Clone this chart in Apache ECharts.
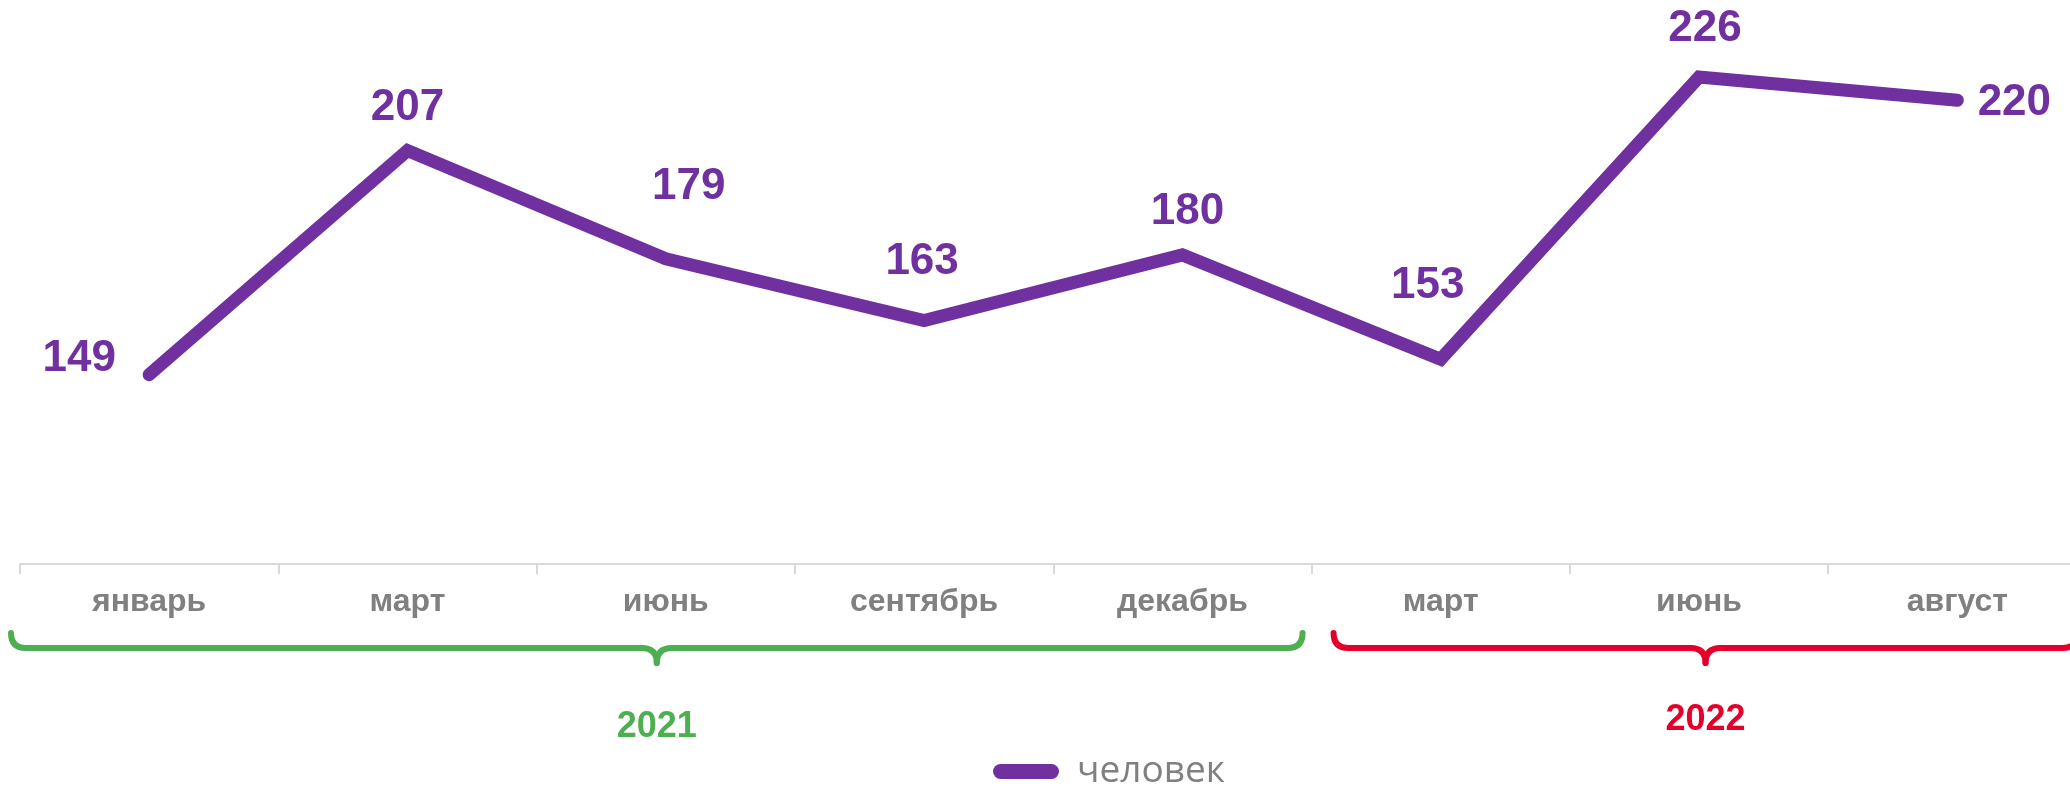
<!DOCTYPE html>
<html>
<head>
<meta charset="utf-8">
<script src="https://cdn.jsdelivr.net/npm/echarts@6/dist/echarts.min.js"></script>
<style>
  html, body { margin: 0; padding: 0; background: #fff; }
  #main { width: 2070px; height: 790px; }
</style>
</head>
<body>
<div id="main"></div>
<script>
// data
const categories = ['январь', 'март', 'июнь', 'сентябрь', 'декабрь', 'март', 'июнь', 'август'];
const values = [149, 207, 179, 163, 180, 153, 226, 220];
const seriesName = 'человек';
const years = ['2021', '2022'];
const yearFirst = [0, 5];
const yearLast = [4, 7];

// layout / styling
const purple = '#7030A0';
const yearColors = ['#4CAF50', '#E4002B'];
const labelOffsets = [[-70, -16], [0, -43], [23, -72], [-2, -59], [5, -43], [-13, -73], [6, -48], [57, 3]];
const braceInset = [[-9, -9], [22, -9]];
const yearTextDy = [64, 57];

let myChart = echarts.init(document.getElementById('main'));

myChart.setOption({
    animation: false,
    textStyle: { fontFamily: '"Liberation Sans", Arial, sans-serif' },
    grid: { left: 20, top: 23, right: -16.5, bottom: 226, containLabel: false, outerBoundsMode: 'none' },
    legend: {
        data: [seriesName],
        left: 993,
        top: 753,
        padding: 0,
        itemWidth: 66,
        itemHeight: 15,
        icon: 'path://M7.5,0 L58.5,0 A7.5,7.5 0 0 1 58.5,15 L7.5,15 A7.5,7.5 0 0 1 7.5,0 Z',
        itemStyle: { color: purple },
        textStyle: {
            color: '#808080',
            fontSize: 37,
            fontFamily: '"Open Sans", "Noto Sans", sans-serif',
            padding: [0, 0, 0, 13]
        }
    },
    xAxis: {
        type: 'category',
        data: categories,
        boundaryGap: true,
        axisLine: { show: true, lineStyle: { color: '#d9d9d9', width: 2 } },
        axisTick: { show: true, length: 10, lineStyle: { color: '#d9d9d9', width: 2 } },
        axisLabel: {
            color: '#808080',
            fontSize: 32,
            fontWeight: 'bold',
            margin: 22,
            interval: 0
        }
    },
    yAxis: {
        type: 'value',
        min: 100,
        max: 240,
        show: false,
        splitLine: { show: false }
    },
    series: [{
        name: seriesName,
        type: 'line',
        data: values.map((v, i) => ({
            value: v,
            label: { offset: labelOffsets[i] }
        })),
        symbol: 'circle',
        symbolSize: 1,
        itemStyle: { color: purple },
        lineStyle: { color: purple, width: 13, cap: 'round', join: 'miter' },
        label: {
            show: true,
            position: 'inside',
            color: purple,
            fontSize: 44,
            fontWeight: 'bold'
        },
        emphasis: { disabled: true }
    }]
});

// braces and year captions under the axis, placed from the category scale
function drawBraces() {
    let c0 = myChart.convertToPixel({ xAxisIndex: 0 }, 0);
    let c1 = myChart.convertToPixel({ xAxisIndex: 0 }, 1);
    let bw = c1 - c0;
    let boundary = i => c0 - bw / 2 + i * bw;
    let top = 633, mid = 648, tip = 663, r = 15;
    let elements = [];
    years.forEach((y, k) => {
        let x0 = boundary(yearFirst[k]) + braceInset[k][0];
        let x1 = boundary(yearLast[k] + 1) + braceInset[k][1];
        let cx = (x0 + x1) / 2;
        let stroke = { stroke: yearColors[k], lineWidth: 6, lineCap: 'round', fill: null };
        let curve = (a, b, c, d, e, f) => ({
            type: 'bezierCurve', silent: true,
            shape: { x1: a, y1: b, cpx1: c, cpy1: d, x2: e, y2: f },
            style: stroke
        });
        let seg = (a, b, c, d) => ({
            type: 'line', silent: true,
            shape: { x1: a, y1: b, x2: c, y2: d },
            style: stroke
        });
        elements.push(curve(x0, top, x0, mid, x0 + r, mid));
        elements.push(seg(x0 + r, mid, cx - r, mid));
        elements.push(curve(cx - r, mid, cx, mid, cx, tip));
        elements.push(curve(cx + r, mid, cx, mid, cx, tip));
        elements.push(seg(cx + r, mid, x1 - r, mid));
        elements.push(curve(x1, top, x1, mid, x1 - r, mid));
        elements.push({
            type: 'text',
            x: cx,
            y: tip + yearTextDy[k],
            silent: true,
            style: {
                text: y,
                fill: yearColors[k],
                font: 'bold 36px "Liberation Sans", Arial, sans-serif',
                align: 'center',
                verticalAlign: 'middle',
                textAlign: 'center',
                textVerticalAlign: 'middle'
            }
        });
    });
    myChart.setOption({ graphic: elements });
}
drawBraces();

window.addEventListener('resize', function () {
    myChart.resize();
    drawBraces();
});
</script>
</body>
</html>
